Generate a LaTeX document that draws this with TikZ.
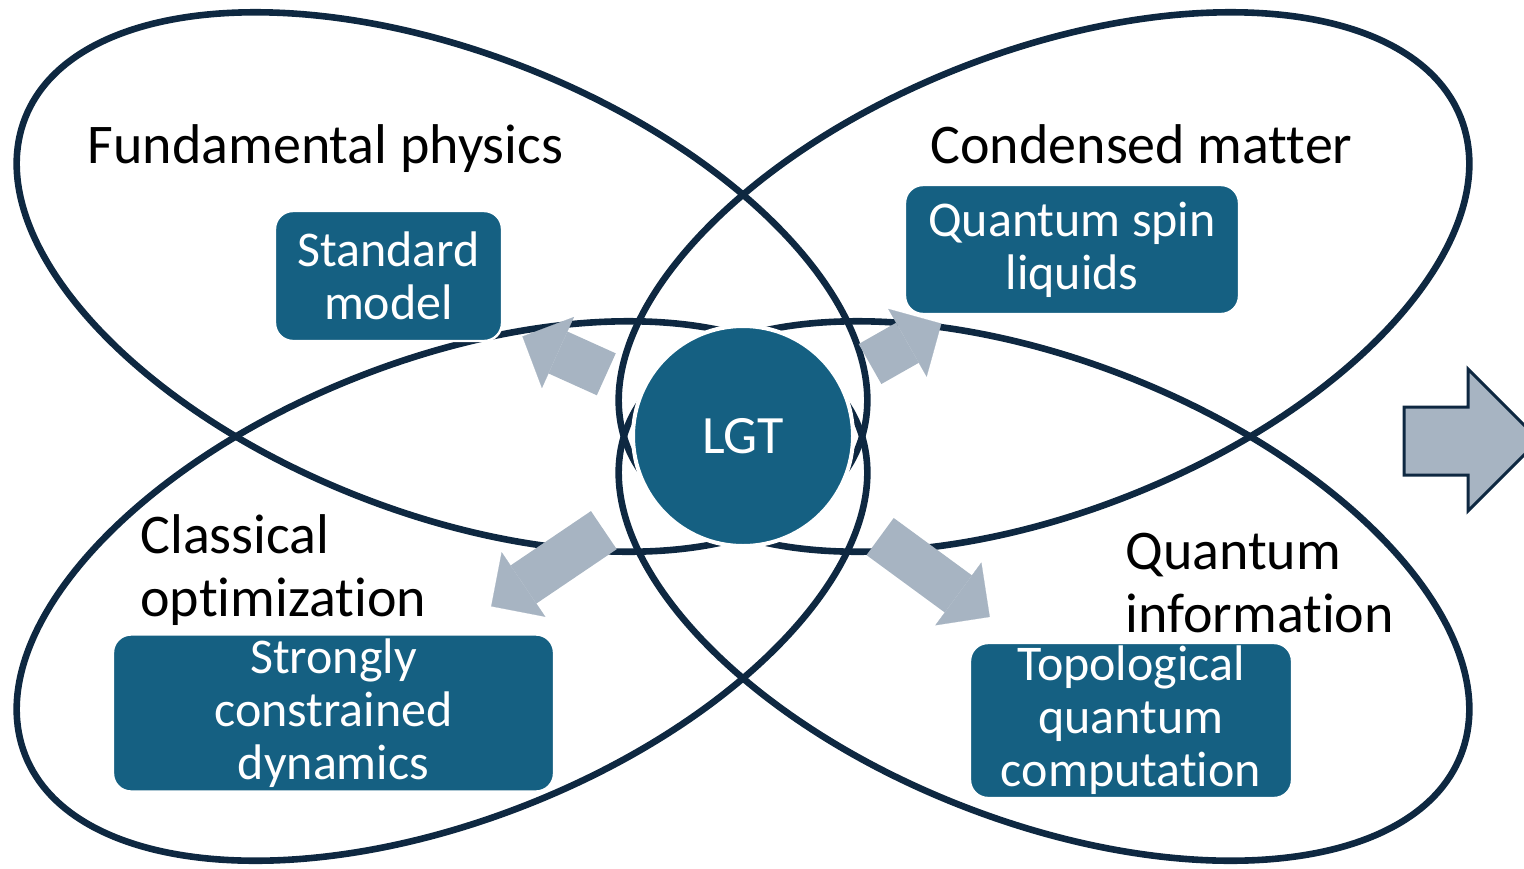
\documentclass[tikz,border=0pt]{standalone}
\usepackage{fontspec}
\setmainfont{Carlito}[Ligatures={NoCommon}]
\usetikzlibrary{arrows.meta}
\usetikzlibrary{calc}

\definecolor{lgtblue}{HTML}{156082}
\definecolor{ringnavy}{HTML}{0E2841}
\definecolor{arrowgrey}{HTML}{A7B4C2}

\tikzset{
  ring/.style={draw=ringnavy, line width=3.3pt},
  topic/.style={rounded corners=9pt, fill=lgtblue, draw=white, line width=1.2pt, text=white, align=center, inner sep=0pt, font=\fontsize{25}{26.5}\selectfont},
  field/.style={text=black, inner sep=0pt, font=\fontsize{28}{31.5}\selectfont},
  fatarrow/.style={draw=arrowgrey, line width=23pt, -{Triangle[width=39pt,length=19.5pt,line width=0.1pt]}},
}

\begin{document}
\begin{tikzpicture}[x=0.5pt,y=0.5pt,yscale=-1,xscale=1]
\useasboundingbox (0,0) rectangle (1524,868);

%Shape: Ellipse [fundamental physics]
\draw [ring, rotate around={21.5:(442,282)}] (442,282) ellipse [x radius=448, y radius=230];
%Shape: Ellipse [condensed matter]
\draw [ring, rotate around={-21.5:(1044,282)}] (1044,282) ellipse [x radius=448, y radius=230];
%Shape: Ellipse [classical optimization]
\draw [ring, rotate around={-21.5:(442,591)}] (442,591) ellipse [x radius=448, y radius=230];
%Shape: Ellipse [quantum information]
\draw [ring, rotate around={21.5:(1044,591)}] (1044,591) ellipse [x radius=448, y radius=230];

% Rounded Rect Nodes
\node [topic, minimum width=113.5pt, minimum height=65pt] (sm) at (388.5,276) {Standard\\model};
\node [topic, minimum width=167pt, minimum height=64.5pt] (qsl) at (1072,249.5) {Quantum spin\\liquids};
\node [topic, minimum width=220.5pt, minimum height=78.5pt] (scd) at (333.5,713) {Strongly\\constrained\\dynamics};
\node [topic, minimum width=161pt, minimum height=77.5pt] (tqc) at (1131,720.5) {Topological\\quantum\\computation};

%Shape: Circle
\node [circle, fill=lgtblue, draw=white, line width=2pt, minimum size=110pt, inner sep=0pt, text=white, font=\fontsize{27}{30}\selectfont] (lgt) at (743,436) {LGT};

%Block Arrows
\draw [fatarrow] ($(lgt.center)!75pt!(sm.center)$) -- ($(lgt.center)!121pt!(sm.center)$);
\draw [fatarrow] ($(lgt.center)!73pt!(qsl.center)$) -- ($(lgt.center)!114pt!(qsl.center)$);
\draw [fatarrow] ($(lgt.center)!84pt!(scd.center)$) -- ($(lgt.center)!152pt!(scd.center)$);
\draw [fatarrow] ($(lgt.center)!85pt!(tqc.center)$) -- ($(lgt.center)!153pt!(tqc.center)$);

%Shape: Right Arrow
\draw [draw=ringnavy, line width=1.5pt, fill=arrowgrey] (1404,407) -- (1468,407) -- (1468,369) -- (1539,440) -- (1468,511) -- (1468,475) -- (1404,475) -- cycle;

% Text Node
\node [field, anchor=base] (fp) at (325.5,163) {Fundamental physics};
% Text Node
\node [field, anchor=base] (cm) at (1141.5,163) {Condensed matter};
% Text Node
\node [field, anchor=north west, align=left] (co) at (140,514) {Classical\\optimization};
% Text Node
\node [field, anchor=north west, align=left] (qi) at (1125,533) {Quantum\\information};

\end{tikzpicture}
\end{document}
